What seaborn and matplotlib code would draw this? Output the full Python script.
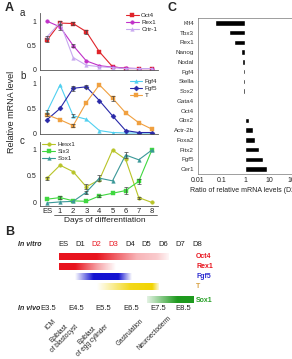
import numpy as np
import pandas as pd
import matplotlib
matplotlib.use('Agg')
import matplotlib.pyplot as plt
import matplotlib.transforms as mtrans
import seaborn as sns

sns.set_theme(style='white')
plt.rcParams['font.family'] = ['Liberation Sans', 'DejaVu Sans']

# ---------------- data ----------------
day_labels = ['ES', '1', '2', '3', '4', '5', '6', '7', '8']

# panel A-a
oct4 = [0.60, 0.96, 0.95, 0.78, 0.36, 0.05, 0.01, 0.01, 0.01]
oct4_err = [0.03, 0.05, 0.04, 0.04, 0, 0, 0, 0, 0]
rex1 = [1.00, 0.88, 0.49, 0.17, 0.07, 0.04, 0.02, 0.01, 0.01]
rex1_err = [0, 0.06, 0.03, 0, 0, 0, 0, 0, 0]
crtr1 = [0.67, 0.97, 0.24, 0.08, 0.05, 0.03, 0.01, 0.01, 0.01]
crtr1_err = [0.02, 0, 0, 0, 0, 0, 0, 0, 0]

# panel A-b
fgf4 = [0.43, 0.98, 0.35, 0.28, 0.05, 0.01, 0.00, 0.00, 0.00]
fgf4_err = [0.04, 0, 0.03, 0, 0, 0, 0, 0, 0]
fgf5 = [0.27, 0.50, 0.91, 0.94, 0.66, 0.35, 0.05, 0.01, 0.01]
fgf5_err = [0, 0, 0.05, 0.03, 0, 0, 0, 0, 0]
t_gene = [0.37, 0.27, 0.15, 0.62, 0.98, 0.71, 0.41, 0.21, 0.08]
t_err = [0.03, 0, 0.03, 0, 0, 0.05, 0, 0, 0]

# panel A-c
hesx1 = [0.46, 0.70, 0.58, 0.30, 0.43, 0.98, 0.81, 0.10, 0.01]
hesx1_err = [0.03, 0, 0, 0.05, 0, 0, 0, 0.02, 0]
six3 = [0.07, 0.10, 0.04, 0.03, 0.13, 0.18, 0.23, 0.40, 0.98]
six3_err = [0, 0.03, 0, 0, 0.02, 0, 0.07, 0.05, 0]
sox1 = [0.00, 0.02, 0.03, 0.20, 0.46, 0.41, 0.89, 0.80, 0.98]
sox1_err = [0, 0, 0, 0.03, 0.06, 0, 0.05, 0, 0]

# panel C
genes_c = ['Klf4', 'Tbx3', 'Rex1', 'Nanog', 'Nodal', 'Fgf4', 'Stella', 'Sox2',
           'Gata4', 'Oct4', 'Gbx2', 'Actr-2b', 'Foxa2', 'Pitx2', 'Fgf5', 'Cer1']
ratio_c = [0.052, 0.20, 0.33, 0.65, 0.71, 0.79, 0.79, 0.79,
           0.93, 0.95, 1.4, 2.1, 2.5, 3.7, 5.5, 7.9]
ratio_ticks = ['0.01', '0.1', '1', '10', '100']

# panel B (expression windows, in days of differentiation)
vitro_labels = ['ES', 'D1', 'D2', 'D3', 'D4', 'D5', 'D6', 'D7', 'D8']
vitro_label_colors = ['#222222', '#222222', '#e8141e', '#e8141e', '#222222',
                      '#222222', '#222222', '#222222', '#222222']
b_genes = ['Oct4', 'Rex1', 'Fgf5', 'T', 'Sox1']
b_prof_days = [[-0.25, 2.0, 4.4, 5.6, 6.3],
               [-0.25, 0.7, 2.0, 3.1],
               [0.7, 1.8, 3.3, 4.1],
               [2.0, 4.0, 5.3, 5.7],
               [5.0, 6.8, 7.8]]
b_prof_level = [[1, 1, 0.32, 0.22, 0.04],
                [1, 1, 0.4, 0.0],
                [0.0, 1, 1, 0.0],
                [0.0, 0.9, 1, 0.15],
                [0.12, 1, 1]]
vivo_labels = ['E3.5', 'E4.5', 'E5.5', 'E6.5', 'E7.5', 'E8.5']
stage_labels = ['ICM', 'Epiblast\nof blastocyst', 'Epiblast\nof egg cylinder',
                'Gastrulation', 'Neuroectoderm']

# ---------------- figure ----------------
W, H = 292, 359
fig = plt.figure(figsize=(W / 100, H / 100), dpi=100)


def ax_px(left, top, right, bottom):
    return fig.add_axes([left / W, 1 - bottom / H, (right - left) / W, (bottom - top) / H])


x_pos = np.arange(len(day_labels))
spine_col = '#555555'


def draw_panel(ax, names, series, errs, colors, markers, ylim, leg_anchor):
    for name, vals, err, col, mk in zip(names, series, errs, colors, markers):
        df = pd.DataFrame({'day': x_pos, 'val': vals})
        sns.lineplot(data=df, x='day', y='val', color=col, marker=mk, markersize=2.6,
                     markeredgewidth=0.3, markeredgecolor=col, lw=0.8, label=name, ax=ax)
        err = np.asarray(err)
        m = err > 0
        ax.errorbar(x_pos[m], np.asarray(vals)[m], yerr=err[m], fmt='none', ecolor='#444444',
                    elinewidth=0.5, capsize=1.3, capthick=0.5, zorder=5)
    ax.set_xlim(-0.53, 8.47)
    ax.set_ylim(*ylim)
    ax.set_yticks([0, 0.5, 1])
    ax.set_yticklabels(['0', '0.5', '1'])
    ax.tick_params(axis='y', labelsize=5, length=0, pad=2.5, colors='#222222')
    ax.set_xlabel('')
    ax.set_ylabel('')
    for s in ['top', 'right']:
        ax.spines[s].set_visible(False)
    for s in ['left', 'bottom']:
        ax.spines[s].set_color(spine_col)
        ax.spines[s].set_linewidth(0.6)
    ax.legend(loc='upper left', bbox_to_anchor=leg_anchor, frameon=False, fontsize=4.5,
              handlelength=2.0, handletextpad=0.4, labelspacing=0.25, borderaxespad=0,
              borderpad=0)


ax_a = ax_px(40, 13, 158, 70)
draw_panel(ax_a, ['Oct4', 'Rex1', 'Crtr-1'], [oct4, rex1, crtr1],
           [oct4_err, rex1_err, crtr1_err], ['#e0242a', '#c030c8', '#c8a8f0'],
           ['s', 'o', '^'], (-0.02, 1.17), (0.73, 1.0))
ax_a.set_xticks([])

ax_b = ax_px(40, 76, 158, 134)
draw_panel(ax_b, ['Fgf4', 'Fgf5', 'T'], [fgf4, fgf5, t_gene],
           [fgf4_err, fgf5_err, t_err], ['#50d0f0', '#2828a8', '#f0a040'],
           ['^', 'D', 's'], (-0.02, 1.16), (0.76, 0.95))
ax_b.set_xticks([])

ax_c = ax_px(40, 142, 158, 206)
draw_panel(ax_c, ['Hesx1', 'Six3', 'Sox1'], [hesx1, six3, sox1],
           [hesx1_err, six3_err, sox1_err], ['#b8c428', '#40d840', '#3a9898'],
           ['o', 's', '^'], (-0.056, 1.13), (0.02, 1.0))
ax_c.set_xticks(x_pos)
ax_c.set_xticklabels(day_labels)
ax_c.tick_params(axis='x', labelsize=5.5, length=0, pad=1.5, colors='#222222')
tr = mtrans.blended_transform_factory(ax_c.transData, ax_c.transAxes)
ax_c.plot([0.55, 8.4], [-0.145, -0.145], color='#333333', lw=0.5, transform=tr, clip_on=False)

fig.text(105 / W, 1 - 220 / H, 'Days of differentiation', fontsize=6, ha='center', va='center',
         color='#222222')
fig.text(12 / W, 1 - 112 / H, 'Relative mRNA level', fontsize=6.5, rotation=90,
         ha='center', va='center', color='#222222')

fig.text(5 / W, 1 - 8 / H, 'A', fontsize=9, fontweight='bold', ha='left', va='center')
fig.text(5 / W, 1 - 232 / H, 'B', fontsize=9, fontweight='bold', ha='left', va='center')
fig.text(168 / W, 1 - 8 / H, 'C', fontsize=9, fontweight='bold', ha='left', va='center')
fig.text(20 / W, 1 - 13 / H, 'a', fontsize=7, ha='left', va='center')
fig.text(20 / W, 1 - 76 / H, 'b', fontsize=7, ha='left', va='center')
fig.text(20 / W, 1 - 141 / H, 'c', fontsize=7, ha='left', va='center')

# ---------------- panel C ----------------
ax_C = ax_px(198, 18, 300, 174)
dfc = pd.DataFrame({'gene': genes_c, 'log_ratio': np.log10(ratio_c)})
sns.barplot(data=dfc, y='gene', x='log_ratio', color='black', width=0.56, ax=ax_C,
            orient='h', saturation=1)
ax_C.set_xlim(-2.0, 2.3)
ax_C.set_xticks([-2, -1, 0, 1, 2])
ax_C.set_xticklabels(ratio_ticks)
ax_C.set_xlabel('Ratio of relative mRNA levels (D2/ES)', fontsize=5, labelpad=2, color='#222222')
ax_C.set_ylabel('')
ax_C.tick_params(axis='y', labelsize=4.5, length=0, pad=3, colors='#333333')
ax_C.tick_params(axis='x', labelsize=5, length=0, pad=2, colors='#222222')
for s in ax_C.spines.values():
    s.set_color('#777777')
    s.set_linewidth(0.5)

# ---------------- panel B ----------------
ax_B = fig.add_axes([0, 0, 1, 134 / H])
ax_B.set_xlim(-63 / 16.75, (W - 63) / 16.75)
ax_B.set_ylim(H, 225)
ax_B.axis('off')

header_y = 244
row_y = [256.5, 266.5, 277, 287, 300]
bar_h = 6.5
vivo_y = 308
b_colors = ['#e8141e', '#e8141e', '#1414d2', '#f2d400', '#1e9a1e']
b_label_colors = ['#e8141e', '#e8141e', '#2a2ad0', '#d8a040', '#28a028']

ax_B.text(18 / W, 1 - (header_y - 225) / 134, 'In vitro', transform=ax_B.transAxes,
          fontsize=5, fontweight='bold', fontstyle='italic', ha='left', va='center')
for i, (lab, col) in enumerate(zip(vitro_labels, vitro_label_colors)):
    ax_B.text(i, header_y, lab, fontsize=5.5, color=col, ha='center', va='center')

for gene, pd_, pl_, col, lcol, y in zip(b_genes, b_prof_days, b_prof_level, b_colors,
                                        b_label_colors, row_y):
    xs = np.linspace(pd_[0], pd_[-1], 300)
    alpha = np.interp(xs, pd_, pl_)
    rgba = np.zeros((1, len(xs), 4))
    rgba[0, :, :3] = matplotlib.colors.to_rgb(col)
    rgba[0, :, 3] = alpha
    ax_B.imshow(rgba, extent=(pd_[0], pd_[-1], y + bar_h / 2, y - bar_h / 2),
                aspect='auto', interpolation='bilinear')
    ax_B.text(7.95, y, gene, fontsize=5, fontweight='bold', color=lcol, ha='left', va='center')

ax_B.set_xlim(-63 / 16.75, (W - 63) / 16.75)
ax_B.set_ylim(H, 225)

ax_B.text(18 / W, 1 - (vivo_y - 225) / 134, 'In vivo', transform=ax_B.transAxes,
          fontsize=5, fontweight='bold', fontstyle='italic', ha='left', va='center')
vivo_x = [-0.9, 0.78, 2.39, 4.06, 5.67, 7.16]
for lab, x in zip(vivo_labels, vivo_x):
    ax_B.text(x, vivo_y, lab, fontsize=5.5, color='#222222', ha='center', va='center')

stage_x = [-0.36, 1.01, 2.81, 4.90, 6.57]
stage_y = [318, 318, 318, 318, 315]
for lab, x, y in zip(stage_labels, stage_x, stage_y):
    ax_B.text(x, y, lab, fontsize=4.7, rotation=45, ha='right', va='top',
              multialignment='center', color='#222222')

fig.savefig('out.png', dpi=100)
